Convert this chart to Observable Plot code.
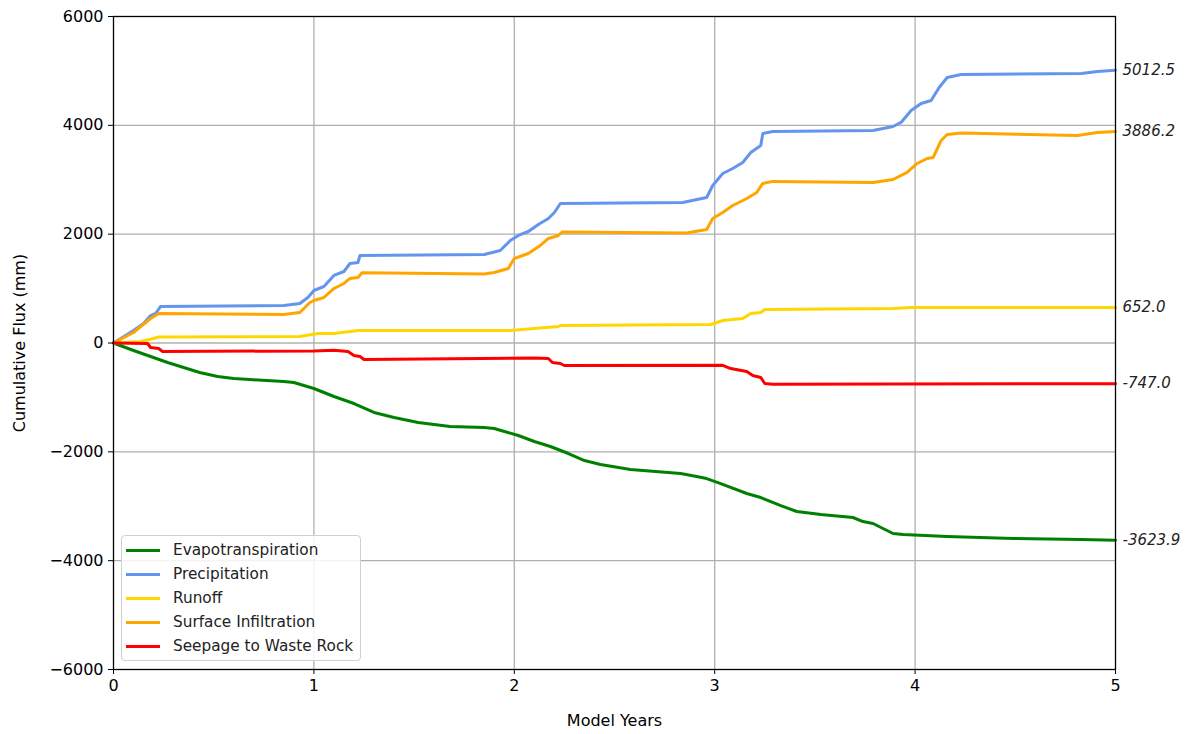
<!DOCTYPE html>
<html>
<head>
<meta charset="utf-8">
<script src="https://cdn.jsdelivr.net/npm/d3@7"></script>
<script src="https://cdn.jsdelivr.net/npm/@observablehq/plot@0.6"></script>
<style>
  body { margin: 0; background: #fff; font-family: "DejaVu Sans", sans-serif; }
  #wrap { position: relative; width: 1190px; height: 734px; }
  #legend { position: absolute; left: 121px; top: 535px; width: 240px; height: 126px;
    border: 1px solid #d0d0d0; border-radius: 4px; background: rgba(255,255,255,0.85); box-sizing: border-box; }
  .row { position: absolute; left: 0; height: 24px; display: flex; align-items: center; font-size: 15.3px; color: #222; white-space: nowrap; }
  .sw { flex: none; width: 34px; height: 3px; margin-left: 4px; margin-right: 13px; }
</style>
</head>
<body>
<div id="wrap"></div>
<script>
const seriesNames = ["Evapotranspiration", "Precipitation", "Runoff", "Surface Infiltration", "Seepage to Waste Rock"];
const seriesColors = ["#008000", "#6495ED", "#FFD700", "#FFA500", "#FF0000"];

const etYears = [0,0.10,0.185,0.27,0.35,0.43,0.52,0.60,0.68,0.85,0.90,1.0,1.10,1.20,1.30,1.40,1.52,1.68,1.85,1.90,2.02,2.10,2.18,2.27,2.35,2.43,2.58,2.83,2.91,2.96,3.03,3.16,3.23,3.33,3.41,3.53,3.69,3.74,3.79,3.89,3.94,4.16,4.49,4.83,5];
const etValues = [0,-138,-248,-358,-450,-542,-616,-652,-671,-708,-726,-836,-983,-1112,-1277,-1369,-1461,-1535,-1553,-1571,-1700,-1810,-1902,-2031,-2160,-2233,-2325,-2399,-2454,-2491,-2583,-2766,-2840,-2987,-3097,-3152,-3207,-3281,-3317,-3501,-3520,-3557,-3593,-3612,-3623.9];

const precipYears = [0,0.10,0.15,0.185,0.21,0.235,0.85,0.93,0.97,1.0,1.05,1.10,1.15,1.18,1.22,1.23,1.85,1.93,1.98,2.02,2.07,2.12,2.17,2.20,2.23,2.84,2.96,2.99,3.04,3.09,3.14,3.18,3.23,3.24,3.29,3.79,3.89,3.93,3.98,4.03,4.08,4.12,4.16,4.23,4.83,4.91,5];
const precipValues = [0,230,358,505,542,671,690,726,836,965,1038,1241,1314,1461,1480,1608,1627,1700,1884,1976,2049,2178,2288,2398,2564,2582,2674,2895,3115,3207,3318,3501,3630,3850,3887,3906,3979,4053,4273,4402,4457,4696,4880,4935,4953,4990,5012.5];

const runoffYears = [0,0.135,0.20,0.225,0.93,1.02,1.10,1.22,1.98,2.10,2.22,2.23,2.98,3.04,3.14,3.18,3.23,3.25,3.89,3.98,5];
const runoffValues = [0,28,83,110,120,175,175,230,230,267,303,322,340,414,450,542,561,616,634,652,652.0];

const infilYears = [0,0.10,0.185,0.225,0.85,0.93,0.98,1.0,1.05,1.10,1.15,1.18,1.22,1.24,1.85,1.90,1.97,2.0,2.07,2.13,2.17,2.22,2.24,2.86,2.96,2.99,3.04,3.09,3.16,3.21,3.24,3.29,3.79,3.89,3.96,4.01,4.06,4.09,4.13,4.16,4.23,4.81,4.91,5];
const infilValues = [0,193,450,542,524,561,744,781,836,1002,1094,1186,1204,1290,1270,1296,1369,1553,1645,1792,1921,1976,2040,2020,2086,2288,2398,2527,2656,2766,2932,2970,2950,3005,3134,3299,3391,3409,3722,3832,3860,3814,3870,3886.2];

const seepYears = [0,0.17,0.185,0.225,0.245,1.0,1.10,1.17,1.20,1.23,1.25,2.10,2.17,2.19,2.23,2.25,3.04,3.08,3.16,3.19,3.23,3.25,3.29,5];
const seepValues = [0,-9,-83,-101,-156,-145,-135,-156,-230,-248,-303,-275,-285,-358,-377,-414,-410,-469,-524,-597,-634,-744,-760,-747.0];

const endLabels = ["5012.5", "3886.2", "652.0", "-747.0", "-3623.9"];
const endValues = [5012.5, 3886.2, 652.0, -747.0, -3623.9];

const xTicks = [0, 1, 2, 3, 4, 5];
const yTicks = [-6000, -4000, -2000, 0, 2000, 4000, 6000];

const allYears = [etYears, precipYears, runoffYears, infilYears, seepYears];
const allValues = [etValues, precipValues, runoffValues, infilValues, seepValues];
const rows = [];
seriesNames.forEach((name, i) => {
  allYears[i].forEach((yr, j) => rows.push({series: name, year: yr, value: allValues[i][j]}));
});
const labelRows = endLabels.map((t, i) => ({text: t, value: endValues[i], year: 5}));

const chart = Plot.plot({
  width: 1190, height: 734,
  marginLeft: 113, marginRight: 75, marginTop: 16, marginBottom: 65,
  style: {fontFamily: "DejaVu Sans, sans-serif", fontSize: "15.5px", color: "#000", background: "#fff"},
  x: {domain: [0, 5]},
  y: {domain: [-6000, 6000]},
  color: {domain: seriesNames, range: seriesColors},
  marks: [
    Plot.gridX([1, 2, 3, 4], {stroke: "#b0b0b0", strokeOpacity: 1, strokeWidth: 1.3}),
    Plot.gridY([-4000, -2000, 0, 2000, 4000], {stroke: "#b0b0b0", strokeOpacity: 1, strokeWidth: 1.3}),
    Plot.line(rows, {x: "year", y: "value", z: "series", stroke: "series", strokeWidth: 3, curve: "linear"}),
    Plot.frame({stroke: "#000", strokeWidth: 1.3}),
    Plot.axisX({ticks: xTicks, tickSize: 5, tickPadding: 5, tickFormat: d3.format("d"), label: "Model Years", labelAnchor: "center", labelArrow: "none", labelOffset: 56, fontSize: 16}),
    Plot.axisY({ticks: yTicks, tickSize: 5, tickPadding: 5, tickFormat: d => d < 0 ? "\u2212" + Math.abs(d) : String(d), label: "Cumulative Flux (mm)", labelAnchor: "center", labelArrow: "none", labelOffset: 100, fontSize: 16}),
    Plot.text(labelRows, {x: "year", y: "value", text: "text", dx: 7, textAnchor: "start", fontStyle: "italic", fontSize: 15, fill: "#222", clip: false})
  ]
});
document.getElementById("wrap").appendChild(chart);

const legend = document.createElement("div");
legend.id = "legend";
seriesNames.forEach((name, i) => {
  const r = document.createElement("div");
  r.className = "row";
  r.style.top = (2 + i * 24) + "px";
  const sw = document.createElement("div");
  sw.className = "sw";
  sw.style.background = seriesColors[i];
  const t = document.createElement("span");
  t.textContent = name;
  r.appendChild(sw); r.appendChild(t);
  legend.appendChild(r);
});
document.getElementById("wrap").appendChild(legend);
</script>
</body>
</html>
